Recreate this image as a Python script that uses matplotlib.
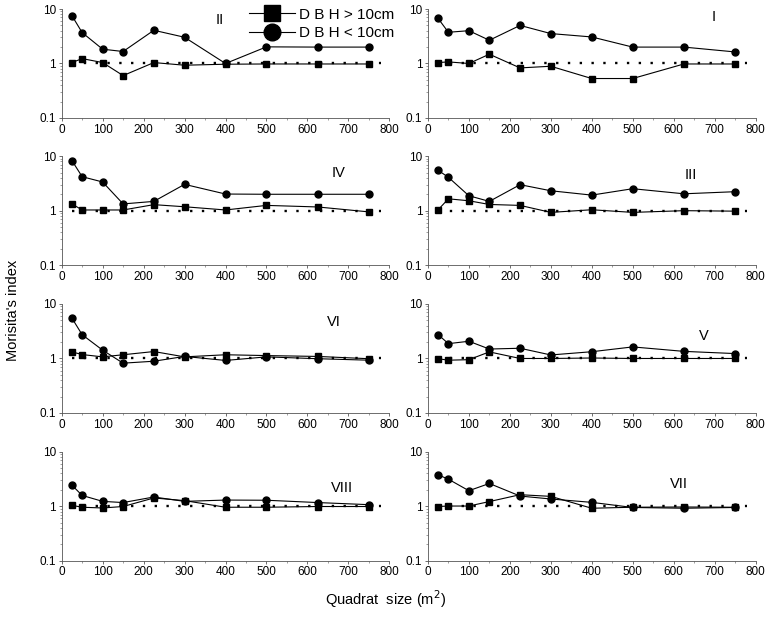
import matplotlib
matplotlib.use('Agg')
import matplotlib.pyplot as plt
from matplotlib.ticker import FixedLocator, FuncFormatter, LogLocator, MultipleLocator

plt.rcParams['font.family'] = ['Liberation Sans', 'DejaVu Sans']

# Data
quadrat = [25, 50, 100, 150, 225, 300, 400, 500, 625, 750]

panels = ['II', 'I', 'IV', 'III', 'VI', 'V', 'VIII', 'VII']

big = {  # DBH > 10cm
    'II':   [1.04, 1.23, 1.04, 0.60, 1.04, 0.93, 0.97, 0.98, 0.98, 0.98],
    'I':    [1.04, 1.07, 1.00, 1.48, 0.83, 0.89, 0.53, 0.53, 0.98, 0.98],
    'IV':   [1.33, 1.03, 1.03, 1.03, 1.29, 1.18, 1.03, 1.25, 1.17, 0.95],
    'III':  [1.04, 1.65, 1.52, 1.30, 1.25, 0.93, 1.04, 0.93, 1.00, 0.98],
    'VI':   [1.32, 1.18, 1.07, 1.17, 1.34, 1.07, 1.17, 1.13, 1.09, 0.99],
    'V':    [0.99, 0.93, 0.95, 1.32, 1.00, 1.00, 1.02, 1.00, 1.00, 1.00],
    'VIII': [1.04, 0.96, 0.93, 0.99, 1.42, 1.27, 0.96, 0.96, 0.99, 0.99],
    'VII':  [0.99, 1.01, 1.01, 1.22, 1.63, 1.52, 0.92, 0.96, 0.97, 0.96],
}
small = {  # DBH < 10cm
    'II':   [7.55, 3.69, 1.83, 1.66, 4.07, 3.03, 1.00, 2.02, 2.00, 2.00],
    'I':    [6.70, 3.74, 4.00, 2.67, 5.00, 3.54, 3.07, 2.00, 2.00, 1.63],
    'IV':   [8.30, 4.20, 3.36, 1.33, 1.48, 3.04, 2.02, 2.00, 2.00, 2.00],
    'III':  [5.50, 4.10, 1.88, 1.48, 3.00, 2.32, 1.93, 2.53, 2.04, 2.23],
    'VI':   [5.50, 2.73, 1.42, 0.82, 0.89, 1.09, 0.92, 1.07, 0.99, 0.93],
    'V':    [2.74, 1.87, 2.07, 1.49, 1.54, 1.16, 1.33, 1.63, 1.35, 1.23],
    'VIII': [2.44, 1.58, 1.23, 1.17, 1.48, 1.23, 1.30, 1.29, 1.17, 1.07],
    'VII':  [3.77, 3.14, 1.93, 2.62, 1.54, 1.36, 1.18, 0.95, 0.92, 0.95],
}
label_pos = {
    'II': (385, 6.3), 'I': (698, 7.0), 'IV': (677, 5.0), 'III': (642, 4.6),
    'VI': (665, 4.6), 'V': (674, 2.6), 'VIII': (684, 2.2), 'VII': (613, 2.6),
}

fig = plt.figure(figsize=(7.71, 6.21), dpi=100)

lefts = [0.080, 0.555]
width = 0.425
bottoms = [0.810, 0.573, 0.335, 0.097]
height = 0.1755

axes = []
for i, name in enumerate(panels):
    r, c = divmod(i, 2)
    ax = fig.add_axes([lefts[c], bottoms[r], width, height])
    ax.plot([25, 780], [1, 1], color='black', linestyle=(0, (1, 4)), lw=1.7)
    ax.plot(quadrat, big[name], color='black', lw=0.8, marker='s', ms=4.5)
    ax.plot(quadrat, small[name], color='black', lw=0.8, marker='o', ms=5)
    ax.set_yscale('log')
    ax.set_ylim(0.1, 10)
    ax.set_xlim(0, 800)
    ax.yaxis.set_major_locator(FixedLocator([0.1, 1, 10]))
    ax.yaxis.set_major_formatter(FuncFormatter(lambda v, p: '%g' % v))
    ax.yaxis.set_minor_locator(LogLocator(base=10, subs=range(2, 10)))
    ax.xaxis.set_major_locator(MultipleLocator(100))
    ax.xaxis.set_minor_locator(MultipleLocator(50))
    for s in ['top', 'right']:
        ax.spines[s].set_visible(False)
    for s in ['left', 'bottom']:
        ax.spines[s].set_linewidth(0.6)
        ax.spines[s].set_color('#555555')
    ax.tick_params(which='major', length=2.5, width=0.6, labelsize=8.5, pad=1.5, color='#555555')
    ax.tick_params(which='minor', length=1.5, width=0.5, color='#777777')
    ax.text(*label_pos[name], name, fontsize=10.5, ha='center', va='center')
    axes.append(ax)

# legend handles
h1, = axes[0].plot([], [], color='black', lw=0.8, marker='s', ms=11)
h2, = axes[0].plot([], [], color='black', lw=0.8, marker='o', ms=12)
fig.legend([h1, h2], ['D B H > 10cm', 'D B H < 10cm'], loc='upper left',
           bbox_to_anchor=(0.305, 1.01), frameon=False, fontsize=11,
           handlelength=3.0, handletextpad=0.3, labelspacing=0.3)

fig.text(0.008, 0.5, "Morisita's index", rotation=90, va='center', ha='left', fontsize=10.5)
fig.text(0.5, 0.035, 'Quadrat  size (m$^2$)', ha='center', va='center', fontsize=10.5)

plt.savefig('out.png', dpi=100)
